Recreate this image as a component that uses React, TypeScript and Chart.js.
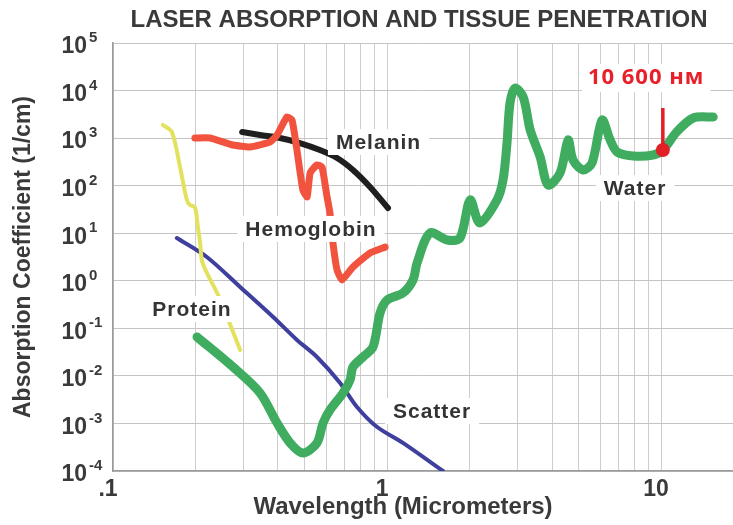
import React, { useEffect, useRef } from 'react';
import { Chart, registerables } from 'chart.js';

Chart.register(...registerables);

// ---------- data (wavelength in micrometers, absorption coefficient in 1/cm) ----------
const waterX = [0.2026, 0.274, 0.344, 0.397, 0.443, 0.494, 0.555, 0.584, 0.619, 0.691, 0.733, 0.751, 0.817, 0.889, 0.943, 1.0, 1.143, 1.244, 1.287, 1.435, 1.656, 1.846, 2.01, 2.18, 2.52, 2.65, 2.74, 2.81, 2.93, 3.14, 3.33, 3.62, 3.87, 4.28, 4.58, 4.77, 5.19, 5.6, 6.09, 6.52, 6.91, 7.9, 9.35, 10.15, 11.4, 13.1, 15.5];
const waterY = [0.0658, 0.0154, 0.00438, 0.00102, 0.000389, 0.000239, 0.000389, 0.00102, 0.00192, 0.00438, 0.0082, 0.0154, 0.025, 0.0406, 0.21, 0.394, 0.553, 1.04, 2.37, 10.1, 7.2, 7.94, 50, 16.4, 50, 131, 789, 5470, 11300, 7320, 1482, 401, 103, 185, 912, 347, 214, 300, 2404, 912, 511, 421, 442, 562, 1345, 2650, 2780];

const hemoX = [0.199, 0.226, 0.274, 0.316, 0.374, 0.397, 0.431, 0.45, 0.469, 0.493, 0.511, 0.524, 0.555, 0.579, 0.604, 0.619, 0.635, 0.657, 0.685, 0.751, 0.867, 0.984];
const hemoY = [1006, 1006, 716, 650, 828, 1164, 2780, 2404, 562, 81, 58, 185, 272, 247, 58, 26.7, 6.2, 1.69, 1.04, 1.95, 3.85, 5.1];

const melaninX = [0.296, 0.344, 0.407, 0.481, 0.569, 0.657, 0.751, 0.867, 1.008];
const melaninY = [1345, 1164, 1006, 789, 562, 382, 214, 94, 34];

const proteinX = [0.152, 0.164, 0.1756, 0.186, 0.191, 0.199, 0.204, 0.208, 0.211, 0.22, 0.24, 0.261, 0.291];
const proteinY = [1888, 1345, 247, 50, 39, 35.6, 13.5, 6.2, 2.7, 1.46, 0.55, 0.173, 0.035];

const scatterX = [0.171, 0.22, 0.291, 0.384, 0.469, 0.555, 0.674, 0.777, 0.92, 1.143, 1.6];
const scatterY = [7.94, 3.16, 0.74, 0.173, 0.057, 0.025, 0.0071, 0.00222, 0.00084, 0.00039, 0.0001];

const markerX = [10.15, 10.15];
const markerY = [562, 4300];

const xTickValues = [0.1, 1, 10];
const xTickLabels = ['.1', '1', '10'];
const yExponents = [-4, -3, -2, -1, 0, 1, 2, 3, 4, 5];

const seriesNames = ['Melanin', 'Hemoglobin', 'Protein', 'Scatter', 'Water'];
const seriesLabelX = [0.931, 0.528, 0.194, 1.46, 8.04];
const seriesLabelY = [829, 12.3, 0.255, 0.00183, 89];

const markerText = '10 600 нм';
const markerTextPos = [8.82, 18400];

const titleText = 'LASER ABSORPTION AND TISSUE PENETRATION';
const xTitle = 'Wavelength (Micrometers)';
const yTitle = 'Absorption Coefficient (1/cm)';

const pts = (xs: number[], ys: number[]) => xs.map((x, i) => ({ x, y: ys[i] }));

const FONT = '"Liberation Sans", Arial, Helvetica, sans-serif';

const decorPlugin = {
  id: 'decor',
  afterDatasetsDraw(chart: any) {
    const ctx = chart.ctx as CanvasRenderingContext2D;
    const xs = chart.scales.x;
    const ys = chart.scales.y;
    ctx.save();
    ctx.textAlign = 'center';
    ctx.textBaseline = 'middle';
    // series labels with white backgrounds
    ctx.font = `bold 21px ${FONT}`;
    (ctx as any).letterSpacing = '1px';
    seriesNames.forEach((name, i) => {
      const px = xs.getPixelForValue(seriesLabelX[i]);
      const py = ys.getPixelForValue(seriesLabelY[i]);
      const w = ctx.measureText(name).width;
      ctx.fillStyle = '#ffffff';
      ctx.fillRect(px - w / 2 - 8, py - 13, w + 16, 26);
      ctx.fillStyle = '#333333';
      ctx.fillText(name, px, py + 1);
    });
    // marker annotation text
    ctx.font = `bold 22px "Open Sans", ${FONT}`;
    (ctx as any).letterSpacing = '1px';
    {
      const px = xs.getPixelForValue(markerTextPos[0]);
      const py = ys.getPixelForValue(markerTextPos[1]);
      const w = ctx.measureText(markerText).width;
      ctx.fillStyle = '#ffffff';
      ctx.fillRect(px - w / 2 - 6, py - 14, w + 12, 28);
      ctx.fillStyle = '#e8202a';
      ctx.fillText(markerText, px, py);
    }
    ctx.restore();
  },
  afterDraw(chart: any) {
    const ctx = chart.ctx as CanvasRenderingContext2D;
    const xs = chart.scales.x;
    const ys = chart.scales.y;
    ctx.save();
    (ctx as any).letterSpacing = '0px';
    ctx.fillStyle = '#3a3a3a';
    // title
    ctx.textAlign = 'center';
    ctx.textBaseline = 'middle';
    ctx.font = `bold 24px ${FONT}`;
    ctx.fillText(titleText, 419, 20);
    // x ticks
    ctx.font = `bold 23px ${FONT}`;
    xTickValues.forEach((v, i) => {
      ctx.fillText(xTickLabels[i], xs.getPixelForValue(v) - 5, 490);
    });
    // x title
    ctx.font = `bold 24px ${FONT}`;
    ctx.fillText(xTitle, 403, 507);
    // y ticks
    yExponents.forEach((e) => {
      const py = ys.getPixelForValue(Math.pow(10, e)) + 4;
      ctx.font = `bold 23px ${FONT}`;
      ctx.textAlign = 'right';
      ctx.textBaseline = 'middle';
      ctx.fillText('10', 87, py);
      ctx.font = `bold 15px ${FONT}`;
      ctx.textAlign = 'left';
      ctx.fillText(String(e), 89, py - 9);
    });
    // y title
    ctx.translate(24, 257);
    ctx.rotate(-Math.PI / 2);
    ctx.textAlign = 'center';
    ctx.font = `bold 23px ${FONT}`;
    ctx.fillText(yTitle, 0, 0);
    ctx.restore();
  },
};

export default function App() {
  const canvasRef = useRef<HTMLCanvasElement>(null);

  useEffect(() => {
    document.body.style.margin = '0';
    const canvas = canvasRef.current;
    if (!canvas) return;
    const line = (data: any, color: string, width: number, order: number, tension = 0.3) => ({
      data,
      borderColor: color,
      backgroundColor: color,
      borderWidth: width,
      pointRadius: 0,
      tension,
      borderJoinStyle: 'round',
      borderCapStyle: 'round',
      fill: false,
      order,
    });
    const chart = new Chart(canvas, {
      type: 'line',
      data: {
        datasets: [
          {
            ...line(pts(markerX, markerY), '#e31f26', 3.5, 0, 0),
            pointRadius: [7, 0],
            pointBackgroundColor: '#e31f26',
            pointBorderWidth: 0,
            borderCapStyle: 'butt',
          } as any,
          line(pts(waterX, waterY), '#3fac60', 9, 1, 0.3) as any,
          line(pts(hemoX, hemoY), '#f2533f', 7, 2, 0.15) as any,
          line(pts(melaninX, melaninY), '#1f1f1f', 6, 3, 0.3) as any,
          line(pts(proteinX, proteinY), '#e2e25e', 4, 4, 0.3) as any,
          line(pts(scatterX, scatterY), '#3f3f9d', 4, 5, 0.3) as any,
        ],
      },
      options: {
        animation: false,
        responsive: false,
        maintainAspectRatio: false,
        layout: { autoPadding: false, padding: { top: 43, right: 0, bottom: 0, left: 0 } },
        plugins: {
          legend: { display: false },
          title: { display: false },
          tooltip: { enabled: false },
        },
        scales: {
          x: {
            type: 'logarithmic',
            min: 0.1,
            max: 18.3,
            afterBuildTicks: (scale: any) => {
              const t: any[] = [];
              [0.1, 1, 10].forEach((d) => {
                for (let k = 1; k <= 9; k++) {
                  const v = +(d * k).toPrecision(3);
                  if (v <= 18.3) t.push({ value: v });
                }
              });
              scale.ticks = t;
            },
            afterFit: (scale: any) => {
              scale.height = 54;
            },
            ticks: { display: false },
            grid: { color: '#cdcdcd', lineWidth: 1, drawTicks: false },
            border: { display: true, color: '#9a9a9a', width: 1.5 },
          },
          y: {
            type: 'logarithmic',
            min: 1e-4,
            max: 1e5,
            afterBuildTicks: (scale: any) => {
              scale.ticks = yExponents.map((e) => ({ value: Math.pow(10, e) }));
            },
            afterFit: (scale: any) => {
              scale.width = 113;
            },
            ticks: { display: false },
            grid: { color: '#c4c4c4', lineWidth: 1, drawTicks: false },
            border: { display: true, color: '#9a9a9a', width: 1.5 },
          },
        },
      } as any,
      plugins: [decorPlugin],
    });
    return () => chart.destroy();
  }, []);

  return (
    <div style={{ width: 733, height: 525, background: '#ffffff' }}>
      <canvas ref={canvasRef} width={733} height={525} style={{ display: 'block' }} />
    </div>
  );
}
